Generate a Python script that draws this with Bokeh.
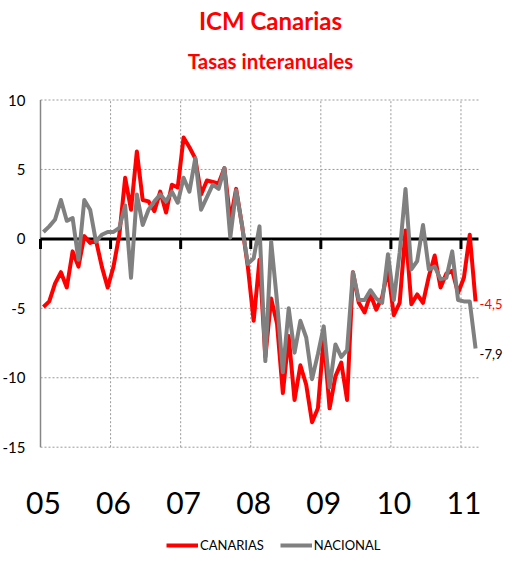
from bokeh.plotting import figure
from bokeh.models import Legend, LegendItem, ColumnDataSource, Range1d
from bokeh.core.properties import value
from bokeh.embed import file_html
from bokeh.resources import INLINE

# ---- data (monthly, Jan 2005 - Mar 2011) ----
years = ["05", "06", "07", "08", "09", "10", "11"]
canarias = [-4.9, -4.5, -3.2, -2.4, -3.5, -0.9, -2.0, 0.2, -0.3, -0.1, -2.0, -3.5,
            -2.0, 0.3, 4.4, 2.1, 6.3, 2.8, 2.7, 2.0, 3.4, 1.9, 3.9, 3.7,
            7.3, 6.6, 5.8, 3.2, 4.2, 4.1, 4.0, 5.1, 1.3, 3.6, 1.0, -2.0,
            -5.9, -1.5, -8.5, -4.3, -6.1, -11.1, -7.0, -11.6, -9.1, -10.5, -13.2, -12.2,
            -7.1, -12.2, -9.9, -8.9, -11.6, -2.4, -4.6, -5.3, -4.0, -5.1, -4.2, -2.2,
            -5.5, -4.6, 0.6, -4.7, -4.0, -4.6, -2.7, -1.2, -3.5, -2.5, -2.3, -3.9,
            -2.8, 0.3, -4.5]
nacional = [0.5, 0.9, 1.4, 2.8, 1.3, 1.5, -1.5, 2.8, 2.1, -0.2, 0.3, 0.5,
            0.5, 0.8, 2.4, -2.8, 3.2, 1.0, 2.1, 2.7, 3.2, 2.7, 3.4, 2.6,
            4.4, 3.4, 5.8, 2.1, 3.0, 3.9, 3.6, 5.1, 0.1, 3.5, 1.0, -1.8,
            -1.4, 0.9, -8.8, -0.2, -4.5, -9.6, -5.0, -8.2, -5.9, -7.1, -10.1, -8.3,
            -6.3, -10.7, -7.6, -8.5, -8.0, -2.4, -4.4, -4.4, -3.7, -4.3, -4.6, -1.1,
            -4.4, -1.0, 3.6, -2.2, -1.6, 1.0, -2.2, -2.0, -2.9, -2.8, -0.9, -4.4,
            -4.5, -4.5, -7.9]
y_ticks = [-15, -10, -5, 0, 5, 10]
y_tick_labels = ["-15", "-10", "-5", "0", "5", "10"]
title = "ICM Canarias"
subtitle = "Tasas interanuales"

RED = "#FF0000"
GRAY = "#808080"
GRID = "#9a9a9a"
FONT = "Lato"

# ---- layout (canvas pixels) ----
W, H = 503, 554
PLOT_L = 40          # left edge of the data area
PLOT_W = 438         # width of the data area
PLOT_TOP = 99.5      # top of the data area
PLOT_H = 347.2       # height of the data area

n = len(canarias)
x = list(range(n))
x0, x1 = -0.5, n - 0.5
y_lo, y_hi = min(y_ticks), max(y_ticks)
ppu_x = PLOT_W / (x1 - x0)
ppu_y = PLOT_H / (y_hi - y_lo)
x_start = x0 - PLOT_L / ppu_x
x_end = x0 + (W - PLOT_L) / ppu_x
y_end = y_hi + PLOT_TOP / ppu_y
y_start = y_lo - (H - PLOT_TOP - PLOT_H) / ppu_y

src = ColumnDataSource(dict(x=x, canarias=canarias, nacional=nacional))

p = figure(width=W, height=H, output_backend="svg", toolbar_location=None,
           x_range=Range1d(x_start, x_end), y_range=Range1d(y_start, y_end),
           x_axis_type=None, y_axis_type=None,
           min_border_left=0, min_border_right=0, min_border_top=0, min_border_bottom=0)
p.outline_line_color = None
p.xgrid.visible = False
p.ygrid.visible = False

year_starts = [i * 12 for i in range(len(years))]
bounds = [s - 0.5 for s in year_starts]

# dotted grid
hg = [t for t in y_ticks if t != 0]
p.segment(x0=[x0] * len(hg), y0=hg, x1=[x1] * len(hg), y1=hg,
          line_color=GRID, line_dash="2 2", line_width=1)
vb = bounds[1:]
p.segment(x0=vb, y0=[y_lo] * len(vb), x1=vb, y1=[y_hi] * len(vb),
          line_color=GRID, line_dash="2 2", line_width=1)

# y axis line and labels
p.segment(x0=[x0], y0=[y_lo], x1=[x0], y1=[y_hi], line_color="#868686", line_width=1.5)
p.text(x=[x0] * len(y_ticks), y=y_ticks, text=y_tick_labels, x_offset=-15,
       text_align="right", text_baseline="middle", text_font=value(FONT),
       text_font_size="15px", text_color="black")

# zero line with year ticks
p.segment(x0=[x0], y0=[0], x1=[x1], y1=[0], line_color="black", line_width=3)
p.segment(x0=bounds, y0=[0] * len(bounds), x1=bounds, y1=[-10 / ppu_y] * len(bounds),
          line_color="black", line_width=3)

# year labels
p.text(x=year_starts, y=[y_lo] * len(years), text=years, text_align="center",
       text_baseline="middle", y_offset=56, text_font=value(FONT), text_font_size="30px",
       text_color="black")

# series
r1 = p.line("x", "canarias", source=src, line_color=RED, line_width=4, line_join="round")
r2 = p.line("x", "nacional", source=src, line_color=GRAY, line_width=4, line_join="round")

# end labels
def fmt(v):
    return f"{v:.1f}".replace(".", ",")

p.text(x=[x[-1]], y=[canarias[-1]], text=[fmt(canarias[-1])], x_offset=4, y_offset=3,
       text_baseline="middle", text_color=RED, text_font=value(FONT), text_font_size="13px")
p.text(x=[x[-1]], y=[nacional[-1]], text=[fmt(nacional[-1])], x_offset=4, y_offset=5,
       text_baseline="middle", text_color="black", text_font=value(FONT), text_font_size="13px")

# titles
x_mid = (x[0] + x[-1]) / 2
p.text(x=[x_mid], y=[y_hi], text=[title], x_offset=11, y_offset=-79.5, text_align="center",
       text_baseline="middle", text_color=RED, text_font=value(FONT),
       text_font_size="24px", text_font_style="bold")
p.text(x=[x_mid], y=[y_hi], text=[subtitle], x_offset=11, y_offset=-39.5, text_align="center",
       text_baseline="middle", text_color=RED, text_font=value(FONT),
       text_font_size="20.5px", text_font_style="bold")

# legend
legend = Legend(items=[LegendItem(label="CANARIAS", renderers=[r1]),
                       LegendItem(label="NACIONAL", renderers=[r2])],
                orientation="horizontal", location=(166, 1),
                glyph_width=32, glyph_height=16, label_height=16, label_standoff=2, spacing=16,
                padding=0, margin=0, border_line_color=None, background_fill_alpha=0,
                label_text_font=FONT, label_text_font_size="13px", label_text_color="black")
p.add_layout(legend)

open("out.html", "w").write(file_html(p, INLINE))
